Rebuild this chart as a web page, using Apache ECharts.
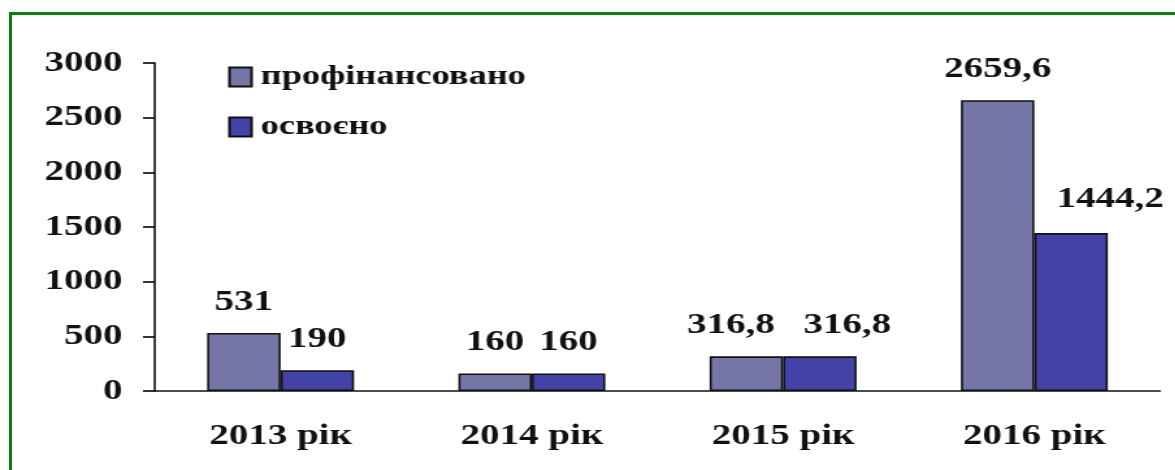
<!DOCTYPE html>
<html lang="uk">
  <head>
    <meta charset="UTF-8" />
    <title>Профінансовано та освоєно</title>
    <style>
      html,
      body {
        margin: 0;
        padding: 0;
        background: #fff;
        overflow: hidden;
      }
      .frame {
        position: absolute;
        left: 9px;
        top: 12px;
        width: 1300px;
        height: 600px;
        border-top: 3.5px solid #0c800c;
        border-left: 3.5px solid #0c800c;
      }
      /* the original picture is stretched sideways, so draw narrow and stretch */
      #chart {
        position: absolute;
        left: 0;
        top: 0;
        width: 904px;
        height: 470px;
        transform: scaleX(1.3);
        transform-origin: 0 0;
      }
    </style>
    <script src="https://cdn.jsdelivr.net/npm/echarts@6/dist/echarts.min.js"></script>
  </head>
  <body>
    <div class="frame"></div>
    <div id="chart"></div>
    <script>
      const years = ["2013 рік", "2014 рік", "2015 рік", "2016 рік"];
      const funded = [531, 160, 316.8, 2659.6];
      const used = [190, 160, 316.8, 1444.2];
      const yMin = 0;
      const yMax = 3000;
      const yStep = 500;

      // labels were moved by hand in the original: [dx, dy]
      const fundedShift = [[0, 0], [0, 0], [-12, 0], [0, 0]];
      const usedShift = [[0, 0], [0, 0], [21, 0], [30, -3]];

      const font = '"Liberation Serif", "Times New Roman", serif';
      const ink = "#111";

      function items(values, shift) {
        return values.map((v, i) => ({
          value: v,
          label: { offset: shift[i] },
        }));
      }

      function barSeries(name, values, shift, color) {
        return {
          name: name,
          type: "bar",
          data: items(values, shift),
          barWidth: 56.5,
          barGap: "0%",
          itemStyle: { color: color, borderColor: ink, borderWidth: 1.6 },
          label: {
            show: true,
            position: "top",
            distance: 16,
            fontFamily: font,
            fontWeight: "bold",
            fontSize: 30,
            color: ink,
            formatter: (p) => String(p.value).replace(".", ","),
          },
        };
      }

      const chart = echarts.init(document.getElementById("chart"), null, {
        renderer: "canvas",
      });

      const option = {
        animation: false,
        textStyle: { fontFamily: font },
        legend: {
          orient: "vertical",
          left: 170.5,
          top: 58,
          itemGap: 22,
          itemWidth: 17,
          itemHeight: 19,
          icon: "rect",
          textStyle: {
            fontFamily: font,
            fontWeight: "bold",
            fontSize: 28,
            color: ink,
            padding: [0, 0, 0, 2],
          },
          data: ["профінансовано", "освоєно"],
        },
        grid: {
          left: 119.2,
          right: 11.7,
          top: 63,
          bottom: 79,
          containLabel: false,
          outerBoundsMode: "none",
        },
        xAxis: {
          type: "category",
          data: years,
          axisLine: { lineStyle: { color: ink, width: 1.7 } },
          axisTick: { length: 10, lineStyle: { color: ink, width: 1.6 } },
          axisLabel: {
            margin: 30,
            fontFamily: font,
            fontWeight: "bold",
            fontSize: 30,
            color: ink,
          },
        },
        yAxis: {
          type: "value",
          min: yMin,
          max: yMax,
          interval: yStep,
          axisLine: { show: true, lineStyle: { color: ink, width: 1.6 } },
          axisTick: { show: true, length: 9.2, lineStyle: { color: ink, width: 1.7 } },
          splitLine: { show: false },
          axisLabel: {
            margin: 25,
            fontFamily: font,
            fontWeight: "bold",
            fontSize: 30,
            color: ink,
            formatter: (v) => String(v),
          },
        },
        series: [
          barSeries("профінансовано", funded, fundedShift, "#7575a7"),
          barSeries("освоєно", used, usedShift, "#4343a8"),
        ],
      };

      chart.setOption(option);
    </script>
  </body>
</html>
